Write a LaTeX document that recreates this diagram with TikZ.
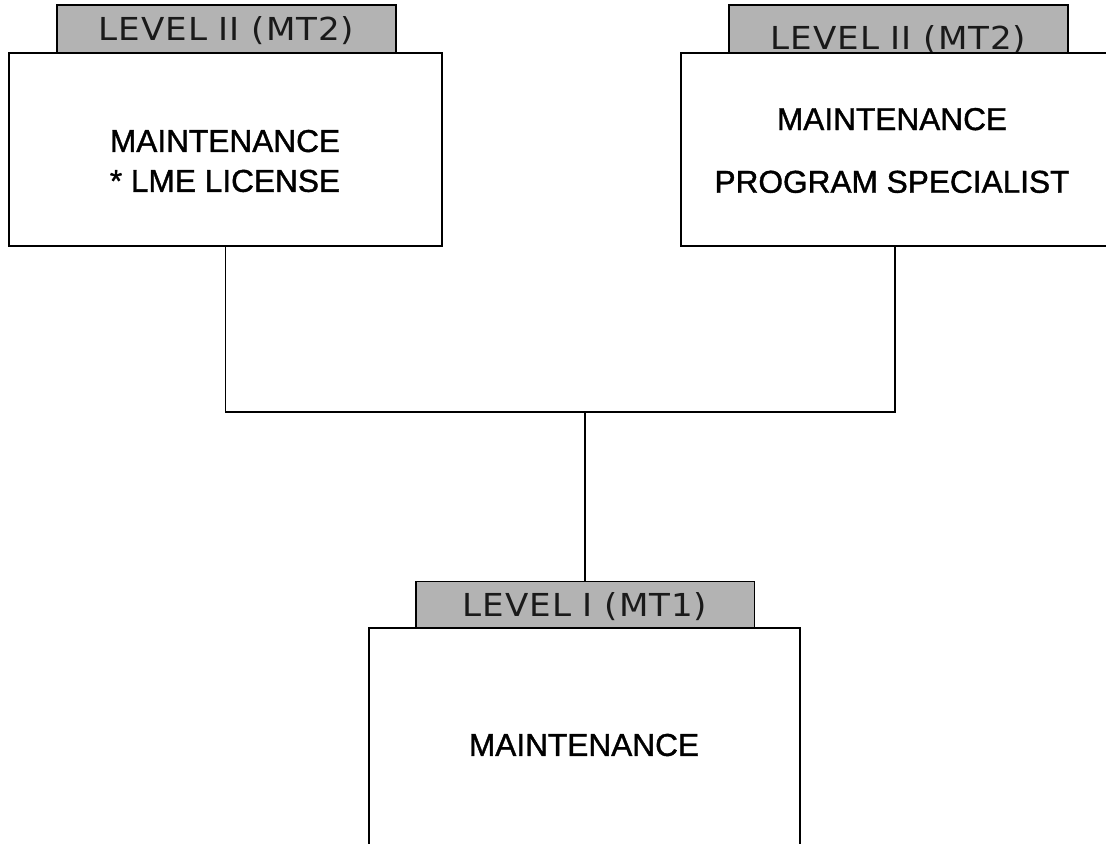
\documentclass[tikz,border=0pt]{standalone}
\usepackage{fontspec}
\setmainfont{Liberation Sans}
\newfontfamily\tabfont[LetterSpace=3, FakeStretch=1.08]{DejaVu Sans}
\newfontfamily\boxfont[FakeBold=1.2]{Liberation Sans}
\usepackage{xcolor}
\definecolor{tabgray}{HTML}{B3B3B3}
\definecolor{tabtxt}{HTML}{1A1A1A}

\begin{document}
\begin{tikzpicture}[
  x=0.02cm, y=-0.02cm,
  tabbox/.style={draw=black, fill=tabgray, line width=1.1pt, minimum width=6.78cm, minimum height=0.96cm, inner sep=0pt, text height=13.6pt, text depth=0pt, font=\tabfont\fontsize{18}{21}\selectfont, text=tabtxt},
  frame/.style={draw=black, line width=1.1pt, minimum height=3.86cm, inner sep=0pt},
  boxtxt/.style={align=center, inner sep=0pt, font=\boxfont\fontsize{18}{22.7}\selectfont},
  conn/.style={line width=1.1pt, color=black},
]
\useasboundingbox (0,0) rectangle (1106,844);
\clip (0,0) rectangle (1106,844);

% level II, left
\node[tabbox] (tabL) at (226.5,29) {LEVEL II (MT2)};
\node[frame, minimum width=8.66cm] (boxL) at (225.5,149.5) {};
\node[boxtxt] (txtL) at (225,161) {MAINTENANCE\\* LME LICENSE};

% level II, right
\node[tabbox, text height=23.8pt] (tabR) at (898.5,29) {LEVEL II (MT2)};
\node[frame, minimum width=8.56cm] (boxR) at (895,149.5) {};
\node[boxtxt] (txtR) at (892,150.5) {MAINTENANCE\\[13pt]PROGRAM SPECIALIST};

% level I
\node[tabbox, minimum height=0.94cm] (tabB) at (585,605) {LEVEL I (MT1)};
\node[frame, minimum width=8.62cm, minimum height=4.8cm] (boxB) at (584.5,748) {};
\node[boxtxt] (txtB) at (584,745) {MAINTENANCE};

\coordinate (hub) at (585,412);
\draw[conn] (boxL.south) |- (hub) -| (boxR.south);
\draw[conn] (hub) -- (tabB.north);

\end{tikzpicture}
\end{document}
